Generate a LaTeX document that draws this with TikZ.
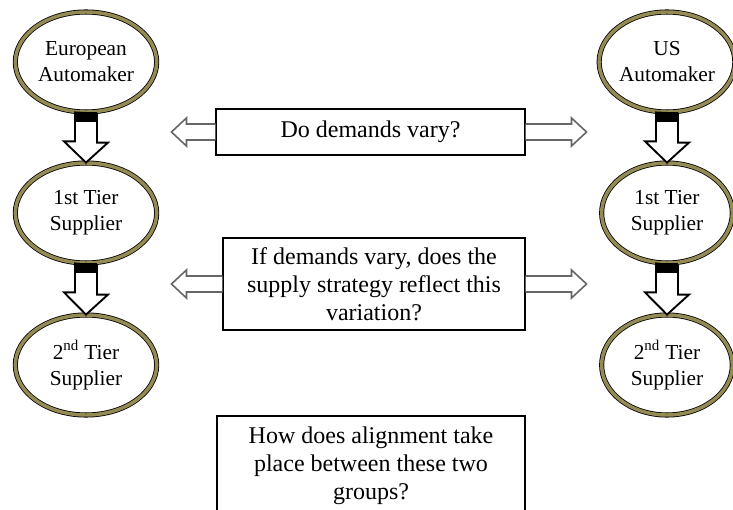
\documentclass[tikz,border=0pt]{standalone}
\usepackage{fontspec}
\setmainfont{Liberation Serif}
\usetikzlibrary{shapes.geometric}
\definecolor{khaki}{RGB}{148,138,84}
\tikzset{
  firm/.style={ellipse, draw=black, double=khaki, double distance=2.6pt, line width=0.6pt,
    fill=white, minimum width=106pt, minimum height=75pt, inner sep=0pt, align=center,
    font=\fontsize{16}{19.5}\selectfont},
  question/.style={rectangle, draw=black, line width=0.8pt, fill=white, align=center,
    inner sep=0pt, font=\fontsize{18}{21}\selectfont},
  hollow/.style={draw=black!60, line width=1.2pt, fill=white},
  block/.style={draw=black, line width=1.4pt, fill=white},
}
% block arrow from one tier down to the next
\newcommand{\tierarrow}[2]{%
  \draw[block] (#1.south) ++(-11,0) -- ++(0,29) -- ++(-11,0) -- (#2.north)
    -- ++(22,-20) -- ++(-11,0) -- ++(0,-29) -- cycle;
  \fill (#1.south) ++(-11,0) rectangle ++(22,10);
}
% hollow arrows out of a question box
\newcommand{\outleft}[2]{%
  \draw[hollow] (#1.west) ++(0,-8) -- ++(-#2,0) -- ++(0,-6) -- ++(-15,14) -- ++(15,14)
    -- ++(0,-6) -- ++(#2,0);
}
\newcommand{\outright}[2]{%
  \draw[hollow] (#1.east) ++(0,-8) -- ++(#2,0) -- ++(0,-6) -- ++(15,14) -- ++(-15,14)
    -- ++(0,-6) -- ++(-#2,0);
}
\begin{document}
\begin{tikzpicture}[x=0.75pt,y=-0.75pt]
  \useasboundingbox (0,0) rectangle (733,510);

  % European side
  \node[firm] (euauto) at (86,62) {European\\Automaker};
  \node[firm] (eutier1) at (86,213) {1st Tier\\Supplier};
  \node[firm] (eutier2) at (86,365) {2\textsuperscript{nd} Tier\\Supplier};

  % US side
  \node[firm, minimum width=98pt] (usauto) at (667,62) {US\\Automaker};
  \node[firm, minimum width=98pt] (ustier1) at (667,213) {1st Tier\\Supplier};
  \node[firm, minimum width=98pt] (ustier2) at (667,365) {2\textsuperscript{nd} Tier\\Supplier};

  \tierarrow{euauto}{eutier1}
  \tierarrow{eutier1}{eutier2}
  \tierarrow{usauto}{ustier1}
  \tierarrow{ustier1}{ustier2}

  % questions
  \node[question, minimum width=231.75pt, minimum height=34.5pt] (qvary) at (370.5,132)
    {Do demands vary?};
  \node[question, minimum width=226.5pt, minimum height=69pt] (qstrategy) at (374,284)
    {If demands vary, does the\\supply strategy reflect this\\variation?};
  \node[question, minimum width=231pt, minimum height=75pt] (qalign) at (371,466)
    {How does alignment take\\place between these two\\groups?};

  \outleft{qvary}{29}
  \outright{qvary}{46}
  \outleft{qstrategy}{36}
  \outright{qstrategy}{46}
\end{tikzpicture}
\end{document}
